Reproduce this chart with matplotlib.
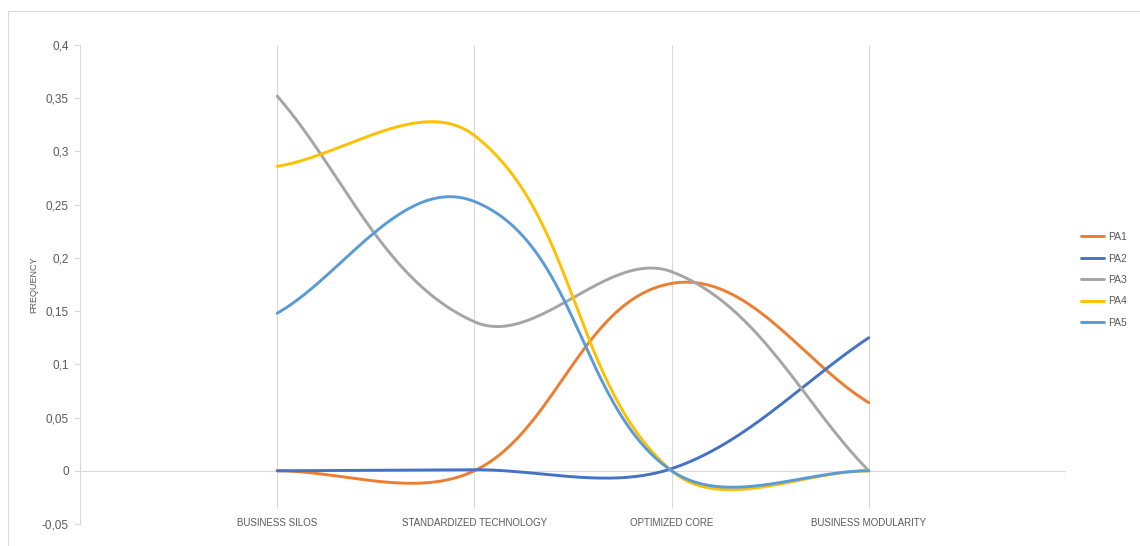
import numpy as np
import matplotlib
matplotlib.use("Agg")
import matplotlib.pyplot as plt
from matplotlib.lines import Line2D
from matplotlib.ticker import FuncFormatter

plt.rcParams['font.family'] = ['Liberation Sans', 'DejaVu Sans']

# stages of the maturity model
stages = ['BUSINESS SILOS', 'STANDARDIZED TECHNOLOGY', 'OPTIMIZED CORE', 'BUSINESS MODULARITY']

# frequency per stage for each group
pa1 = [0.0, 0.0, 0.176, 0.064]
pa2 = [0.0, 0.001, 0.002, 0.125]
pa3 = [0.352, 0.140, 0.187, 0.0]
pa4 = [0.286, 0.315, 0.0, 0.0]
pa5 = [0.148, 0.253, 0.0, 0.0]

names = ['PA1', 'PA2', 'PA3', 'PA4', 'PA5']
colors = ['#ED7D31', '#4472C4', '#A5A5A5', '#FFC000', '#5B9BD5']

grid_c = '#d9d9d9'
text_c = '#595959'


def smooth_line(ax, xs, ys, n=60):
    """Bezier smoothing like office charts, computed in screen space."""
    pts = ax.transData.transform(np.column_stack([xs, ys]))
    out = [pts[:1]]
    t = np.linspace(0, 1, n)[1:, None]
    last = len(pts) - 1
    for i in range(last):
        p0, p1 = pts[max(i - 1, 0)], pts[i]
        p2, p3 = pts[i + 1], pts[min(i + 2, last)]
        d = np.linalg.norm(p2 - p1)
        t1 = p2 - p0
        t2 = p3 - p1
        c1 = p1 + t1 / np.linalg.norm(t1) * d / 3
        c2 = p2 - t2 / np.linalg.norm(t2) * d / 3
        seg = ((1 - t) ** 3) * p1 + 3 * ((1 - t) ** 2) * t * c1 \
            + 3 * (1 - t) * t ** 2 * c2 + t ** 3 * p2
        out.append(seg)
    curve = np.vstack(out)
    return ax.transData.inverted().transform(curve)


fig = plt.figure(figsize=(11.4, 5.46), dpi=100)
ax = fig.add_axes([80 / 1140, 1 - 524 / 546, 986 / 1140, 479 / 546])

x = np.arange(1, len(stages) + 1)
ax.set_xlim(0, 5)
ax.set_ylim(-0.05, 0.4)

# vertical category lines and zero line
ax.vlines(np.arange(1, 6), -0.035, 0.4, color=grid_c, lw=0.8, zorder=0)
ax.axhline(0, color=grid_c, lw=0.8, zorder=0)

for vals, name, c in zip([pa1, pa2, pa3, pa4, pa5], names, colors):
    curve = smooth_line(ax, x, vals)
    ax.plot(curve[:, 0], curve[:, 1], color=c, lw=2.1, label=name,
            solid_capstyle='round')

for s in ['top', 'right', 'bottom']:
    ax.spines[s].set_visible(False)
ax.spines['left'].set_color(grid_c)
ax.spines['left'].set_linewidth(0.8)

ax.set_yticks(np.arange(-0.05, 0.401, 0.05))
ax.yaxis.set_major_formatter(FuncFormatter(lambda v, p: f"{round(v, 2):g}".replace('.', ',')))
ax.tick_params(axis='y', colors=grid_c, labelcolor=text_c, labelsize=8.5,
               length=4, width=0.8, pad=4)
ax.set_xticks(x, stages)
ax.tick_params(axis='x', length=0, labelsize=7, labelcolor=text_c, pad=-4)

fig.text(34 / 1140, 1 - 285 / 546, 'FREQUENCY', rotation=90, fontsize=6.5,
         color=text_c, ha='center', va='center')

ax.legend(loc='center left', bbox_to_anchor=(1077 / 1140, 1 - 280 / 546),
          bbox_transform=fig.transFigure, frameon=False, fontsize=7.5,
          handlelength=2.2, handletextpad=0.4, labelspacing=1.1,
          borderaxespad=0, labelcolor=text_c)

# outer frame edges
fig.add_artist(Line2D([8 / 1140, 1], [1 - 11 / 546] * 2, color=grid_c, lw=0.8))
fig.add_artist(Line2D([8 / 1140] * 2, [0, 1 - 11 / 546], color=grid_c, lw=0.8))

fig.savefig('out.png', dpi=100)
